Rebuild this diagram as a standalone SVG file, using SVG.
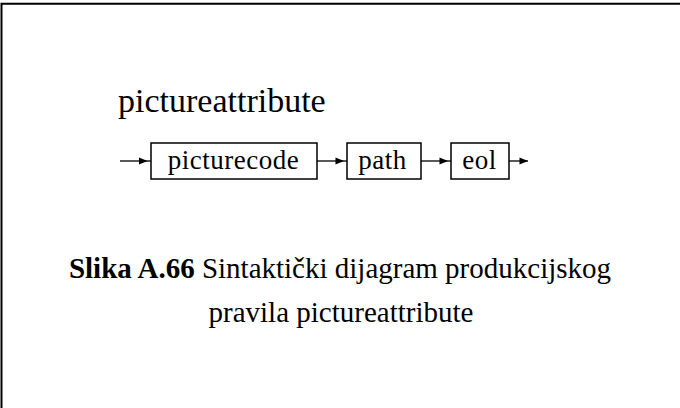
<svg xmlns="http://www.w3.org/2000/svg" width="680" height="408" viewBox="0 0 680 408">
<defs>
<style>
.frame{fill:none;stroke:#000;stroke-width:2}
.box{fill:#fff;stroke:#000;stroke-width:1.5}
.line{fill:none;stroke:#000;stroke-width:1.3}
.ah{fill:#000}
.t{font-family:"Liberation Serif","Times New Roman",serif;fill:#000}
.lbl{font-size:27px;letter-spacing:0.5px;text-anchor:middle}
.title{font-size:34px}
.cap{font-size:29px;text-anchor:middle}
</style>
</defs>
<rect width="680" height="408" fill="#fff"/>
<path class="frame" d="M1.5,408 V3.7 H680"/>
<text class="t title" x="118" y="112">pictureattribute</text>
<g id="connectors">
<path class="line" d="M120,161 H151"/>
<path class="ah" d="M147.5,161 L139,157.5 L139,164.5 Z"/>
<path class="line" d="M317,161 H347"/>
<path class="ah" d="M344,161 L335.5,157.5 L335.5,164.5 Z"/>
<path class="line" d="M421,161 H451"/>
<path class="ah" d="M448,161 L439.5,157.5 L439.5,164.5 Z"/>
<path class="line" d="M509,161 H528"/>
<path class="ah" d="M528,161 L519.5,157.5 L519.5,164.5 Z"/>
</g>
<g id="picturecode">
<rect class="box" x="151" y="143" width="166" height="36"/>
<text class="t lbl" x="233.5" y="169">picturecode</text>
</g>
<g id="path">
<rect class="box" x="347" y="143" width="74" height="36"/>
<text class="t lbl" x="382.5" y="169">path</text>
</g>
<g id="eol">
<rect class="box" x="451" y="143" width="58" height="36"/>
<text class="t lbl" x="479.5" y="169">eol</text>
</g>
<text class="t cap" x="340" y="278"><tspan font-weight="bold">Slika A.66</tspan> Sintaktički dijagram produkcijskog</text>
<text class="t cap" x="341" y="322">pravila pictureattribute</text>
</svg>
